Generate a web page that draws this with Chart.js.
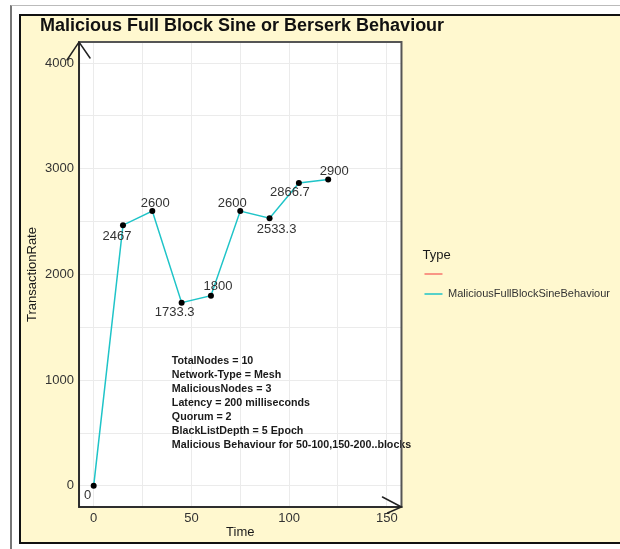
<!DOCTYPE html>
<html>
<head>
<meta charset="utf-8">
<title>Malicious Full Block Sine or Berserk Behaviour</title>
<script src="https://cdn.jsdelivr.net/npm/chart.js@4.4.1/dist/chart.umd.min.js"></script>
<style>
  html, body { margin: 0; padding: 0; background: #fff; }
  #frame { position: absolute; left: 10px; top: 5px; width: 640px; height: 580px; border-left: 2px solid #777; border-top: 1px solid #bbb; }
  #panel { position: absolute; left: 19px; top: 14px; width: 640px; height: 526px; background: #fff8cf; border: 2px solid #111; }
  #chart { position: absolute; left: 0; top: 0; }
</style>
</head>
<body>
<div id="frame"></div>
<div id="panel"><canvas id="chart" width="599" height="526"></canvas></div>
<script>
// series
const timeSteps = [0, 15, 30, 45, 60, 75, 90, 105, 120];
const transactionRate = [0, 2467, 2600, 1733.3, 1800, 2600, 2533.3, 2866.7, 2900];
const seriesNames = ['', 'MaliciousFullBlockSineBehaviour'];

// axes
const xTickValues = [0, 25, 50, 75, 100, 125, 150];
const xTickLabels = [0, 50, 100, 150];
const yTickValues = [0, 500, 1000, 1500, 2000, 2500, 3000, 3500, 4000];
const yTickLabels = [0, 1000, 2000, 3000, 4000];

// run settings printed inside the plot
const noteLines = [
    'TotalNodes = 10',
    'Network-Type = Mesh',
    'MaliciousNodes = 3',
    'Latency = 200 milliseconds',
    'Quorum = 2',
    'BlackListDepth = 5 Epoch',
    'Malicious Behaviour for 50-100,150-200..blocks'
];

const FONT = '"Liberation Sans", Arial, Helvetica, sans-serif';

// white panel, frame with arrow heads, value labels, notes, title
const plotDecor = {
    id: 'plotDecor',
    beforeDraw(chart) {
        const { ctx, chartArea: a } = chart;
        ctx.save();
        ctx.fillStyle = '#ffffff';
        ctx.fillRect(a.left, a.top, a.right - a.left, a.bottom - a.top);
        ctx.restore();
    },
    afterDatasetsDraw(chart, args, opts) {
        const { ctx, scales } = chart;
        const meta = chart.getDatasetMeta(1);
        ctx.save();
        ctx.font = '13px ' + FONT;
        ctx.fillStyle = '#333333';
        ctx.textAlign = 'center';
        ctx.textBaseline = 'middle';
        meta.data.forEach((pt, i) => {
            const off = opts.labelOffsets[i];
            ctx.fillText(String(transactionRate[i]), pt.x + off[0], pt.y + off[1]);
        });

        const nx = scales.x.getPixelForValue(opts.noteAt[0]);
        const ny = scales.y.getPixelForValue(opts.noteAt[1]);
        ctx.font = 'bold 10.7px ' + FONT;
        ctx.fillStyle = '#1a1a1a';
        ctx.textAlign = 'left';
        noteLines.forEach((t, i) => ctx.fillText(t, nx, ny + i * 14));
        ctx.restore();
    },
    afterDraw(chart) {
        const { ctx, chartArea: a } = chart;
        ctx.save();
        ctx.lineCap = 'round';
        ctx.strokeStyle = '#555555';
        ctx.lineWidth = 2;
        ctx.strokeRect(a.left, a.top, a.right - a.left, a.bottom - a.top);

        ctx.strokeStyle = '#222222';
        ctx.lineWidth = 1.5;
        ctx.beginPath();
        // axis lines
        ctx.moveTo(a.left, a.top);
        ctx.lineTo(a.left, a.bottom);
        ctx.lineTo(a.right, a.bottom);
        // arrow head on the y axis
        ctx.moveTo(a.left - 12, a.top + 18);
        ctx.lineTo(a.left, a.top);
        ctx.lineTo(a.left + 11, a.top + 16);
        // arrow head on the x axis
        ctx.moveTo(a.right - 19, a.bottom - 10);
        ctx.lineTo(a.right, a.bottom);
        ctx.lineTo(a.right - 14, a.bottom + 6);
        ctx.stroke();

        ctx.font = 'bold 18px ' + FONT;
        ctx.fillStyle = '#111111';
        ctx.textAlign = 'left';
        ctx.textBaseline = 'middle';
        ctx.fillText('Malicious Full Block Sine or Berserk Behaviour', 19, 10);
        ctx.restore();
    }
};

const ctx = document.getElementById('chart').getContext('2d');

const chart = new Chart(ctx, {
    type: 'line',
    data: {
        datasets: [{
            label: seriesNames[0],
            data: [],
            borderColor: '#F8766D',
            backgroundColor: '#F8766D',
            borderWidth: 1.5
        }, {
            label: seriesNames[1],
            data: timeSteps.map((t, i) => ({ x: t, y: transactionRate[i] })),
            borderColor: '#1fc4c8',
            backgroundColor: '#1fc4c8',
            borderWidth: 1.5,
            pointRadius: 3,
            pointBorderWidth: 0,
            pointBackgroundColor: '#000000',
            tension: 0
        }]
    },
    options: {
        responsive: false,
        animation: false,
        layout: {
            padding: { left: 0, right: 0, top: 26, bottom: 0 }
        },
        scales: {
            x: {
                type: 'linear',
                min: -7.5,
                max: 157.5,
                afterBuildTicks: axis => { axis.ticks = xTickValues.map(v => ({ value: v })); },
                grid: { color: '#ebebeb', lineWidth: 1, drawTicks: false },
                border: { display: false },
                ticks: {
                    padding: 3.2,
                    color: '#333333',
                    font: { family: FONT, size: 13 },
                    maxRotation: 0,
                    callback: v => xTickLabels.includes(v) ? String(v) : ''
                },
                title: {
                    display: true,
                    text: 'Time',
                    color: '#1a1a1a',
                    font: { family: FONT, size: 13, lineHeight: 1 },
                    padding: { top: -3.5, bottom: 3.5 }
                }
            },
            y: {
                min: -200,
                max: 4200,
                afterBuildTicks: axis => { axis.ticks = yTickValues.map(v => ({ value: v })); },
                grid: { color: '#ebebeb', lineWidth: 1, drawTicks: false },
                border: { display: false },
                ticks: {
                    padding: 5,
                    color: '#333333',
                    font: { family: FONT, size: 13 },
                    callback: v => yTickLabels.includes(v) ? String(v) : ''
                },
                title: {
                    display: true,
                    text: 'TransactionRate',
                    color: '#1a1a1a',
                    font: { family: FONT, size: 13 },
                    padding: { top: 3.2, bottom: 0.3 }
                }
            },
            // keeps a gap between the panel and the legend
            gap: {
                position: 'right',
                display: true,
                grid: { display: false },
                border: { display: false },
                ticks: { display: false },
                afterFit: s => { s.width = 21; }
            }
        },
        plugins: {
            legend: {
                position: 'right',
                align: 'center',
                fullSize: false,
                maxWidth: 260,
                title: {
                    display: true,
                    text: 'Type',
                    position: 'start',
                    color: '#1a1a1a',
                    font: { family: FONT, size: 13 },
                    padding: { top: 8.7, bottom: 1.7 }
                },
                labels: {
                    boxWidth: 18,
                    boxHeight: 0,
                    padding: 2,
                    color: '#333333',
                    font: { family: FONT, size: 11, lineHeight: 18 / 11 },
                    // one-line arrays so each entry takes a full line height
                    generateLabels(chart) {
                        const items = Chart.defaults.plugins.legend.labels.generateLabels(chart);
                        items.forEach(item => { item.text = [item.text]; });
                        return items;
                    }
                }
            },
            tooltip: { enabled: false },
            plotDecor: {
                labelOffsets: [[-6, 10], [-6, 11], [3, -8], [-7, 10], [7, -9], [-8, -8], [7, 11], [-9, 10], [6, -8]],
                noteAt: [40, 1180]
            }
        }
    },
    plugins: [plotDecor]
});
</script>
</body>
</html>
